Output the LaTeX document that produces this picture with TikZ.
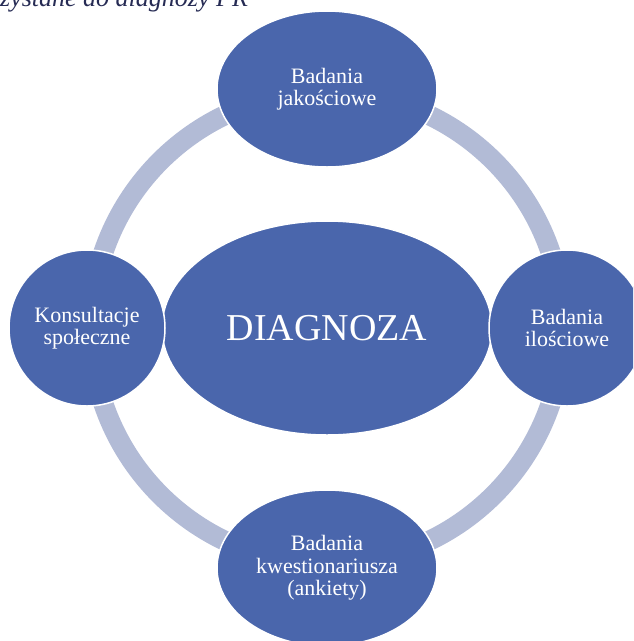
\documentclass[tikz,border=0pt]{standalone}
\usepackage{fontspec}
\setmainfont{Liberation Serif}
\usetikzlibrary{shapes.geometric}
\definecolor{nodeblue}{RGB}{74,102,172}
\definecolor{ringblue}{RGB}{178,187,214}
\definecolor{titleblue}{RGB}{38,43,84}

\begin{document}
\begin{tikzpicture}[x=1pt,y=-1pt,
  blob/.style={ellipse,fill=nodeblue,draw=white,line width=1.5pt,inner sep=0pt,
    text=white,align=center,font=\fontsize{22}{22.5}\selectfont},
  roundblob/.style={blob,minimum width=156pt,minimum height=156pt},
  wideblob/.style={blob,minimum width=220pt,minimum height=156pt}]
  \useasboundingbox(0,0)rectangle(633,641);
  \clip(0,0)rectangle(633,641);
  % caption, cut off at the top
  \node[anchor=base west,inner sep=0pt,text=titleblue,font=\itshape\fontsize{26}{28}\selectfont]
    (title) at (0,6) {zystane do diagnozy PR};
  % ring
  \coordinate (ctr) at (327,328);
  \draw[ringblue,line width=20pt](ctr)circle(236);
  % centre
  \node[blob,minimum width=330pt,minimum height=214pt,font=\fontsize{38}{40}\selectfont]
    (diag) at (ctr) {DIAGNOZA};
  % four around
  \node[wideblob] (jakosc) at (327,89) {Badania\\jakościowe};
  \node[roundblob] (ilosc) at (567,328) {Badania\\ilościowe};
  \node[wideblob] (ankiety) at (327,568) {Badania\\kwestionariusza\\(ankiety)};
  \node[roundblob] (konsult) at (87,328) {Konsultacje\\społeczne};
\end{tikzpicture}
\end{document}
